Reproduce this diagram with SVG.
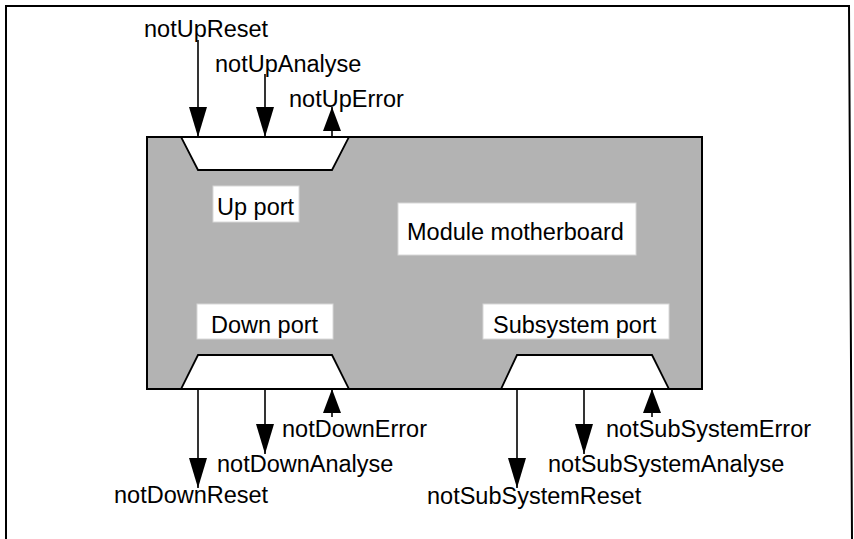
<svg xmlns="http://www.w3.org/2000/svg" width="854" height="539" viewBox="0 0 854 539">
<style>
text{font-family:"Liberation Sans",Arial,sans-serif;font-size:23.5px;fill:#000}
.ln{stroke:#000;stroke-width:1.6;fill:none}
.port{fill:#fff;stroke:#000;stroke-width:1.8}
.lbl{fill:#fff;stroke:#d8d8d8;stroke-width:1}
</style>
<defs>
<marker id="ah" viewBox="0 0 30 18" refX="30" refY="9" markerWidth="30" markerHeight="18" markerUnits="userSpaceOnUse" orient="auto">
<path d="M0,0 L30,9 L0,18 Z" fill="#000"/>
</marker>
<marker id="ahs" viewBox="0 0 24 18" refX="24" refY="9" markerWidth="24" markerHeight="18" markerUnits="userSpaceOnUse" orient="auto">
<path d="M0,0 L24,9 L0,18 Z" fill="#000"/>
</marker>
</defs>
<rect width="854" height="539" fill="#fff"/>
<path d="M6,539 L6,6 L849,6 L852,539" fill="none" stroke="#000" stroke-width="2"/>
<g id="motherboard">
<rect x="147" y="137" width="555" height="252" fill="#b3b3b3" stroke="#000" stroke-width="2"/>
<rect class="lbl" x="398" y="203" width="238" height="52"/>
<text x="407" y="240">Module motherboard</text>
</g>
<g id="upport">
<polygon class="port" points="181,137 349,137 332,170 198,170"/>
<rect class="lbl" x="213" y="186" width="86" height="36"/>
<text x="217" y="215">Up port</text>
</g>
<g id="downport">
<polygon class="port" points="198,355 332,355 349,389 181,389"/>
<rect class="lbl" x="197" y="304" width="136" height="35"/>
<text x="211" y="333">Down port</text>
</g>
<g id="subport">
<polygon class="port" points="517,355 652,355 669,389 501,389"/>
<rect class="lbl" x="483" y="304" width="186" height="35"/>
<text x="493" y="333">Subsystem port</text>
</g>
<g id="connectors">
<line class="ln" x1="198" y1="40" x2="198" y2="137" marker-end="url(#ah)"/>
<line class="ln" x1="265" y1="74" x2="265" y2="137" marker-end="url(#ah)"/>
<line class="ln" x1="332" y1="137" x2="332" y2="107" marker-end="url(#ahs)"/>
<line class="ln" x1="198" y1="389" x2="198" y2="488" marker-end="url(#ah)"/>
<line class="ln" x1="265" y1="389" x2="265" y2="454" marker-end="url(#ah)"/>
<line class="ln" x1="332" y1="417" x2="332" y2="389" marker-end="url(#ahs)"/>
<line class="ln" x1="517" y1="389" x2="517" y2="488" marker-end="url(#ah)"/>
<line class="ln" x1="584" y1="389" x2="584" y2="454" marker-end="url(#ah)"/>
<line class="ln" x1="652" y1="417" x2="652" y2="389" marker-end="url(#ahs)"/>
</g>
<g id="signals">
<text x="144" y="37">notUpReset</text>
<text x="215" y="72">notUpAnalyse</text>
<text x="289" y="107">notUpError</text>
<text x="282" y="437">notDownError</text>
<text x="217" y="472">notDownAnalyse</text>
<text x="114" y="503">notDownReset</text>
<text x="606" y="437">notSubSystemError</text>
<text x="548" y="472">notSubSystemAnalyse</text>
<text x="427" y="504">notSubSystemReset</text>
</g>
</svg>
